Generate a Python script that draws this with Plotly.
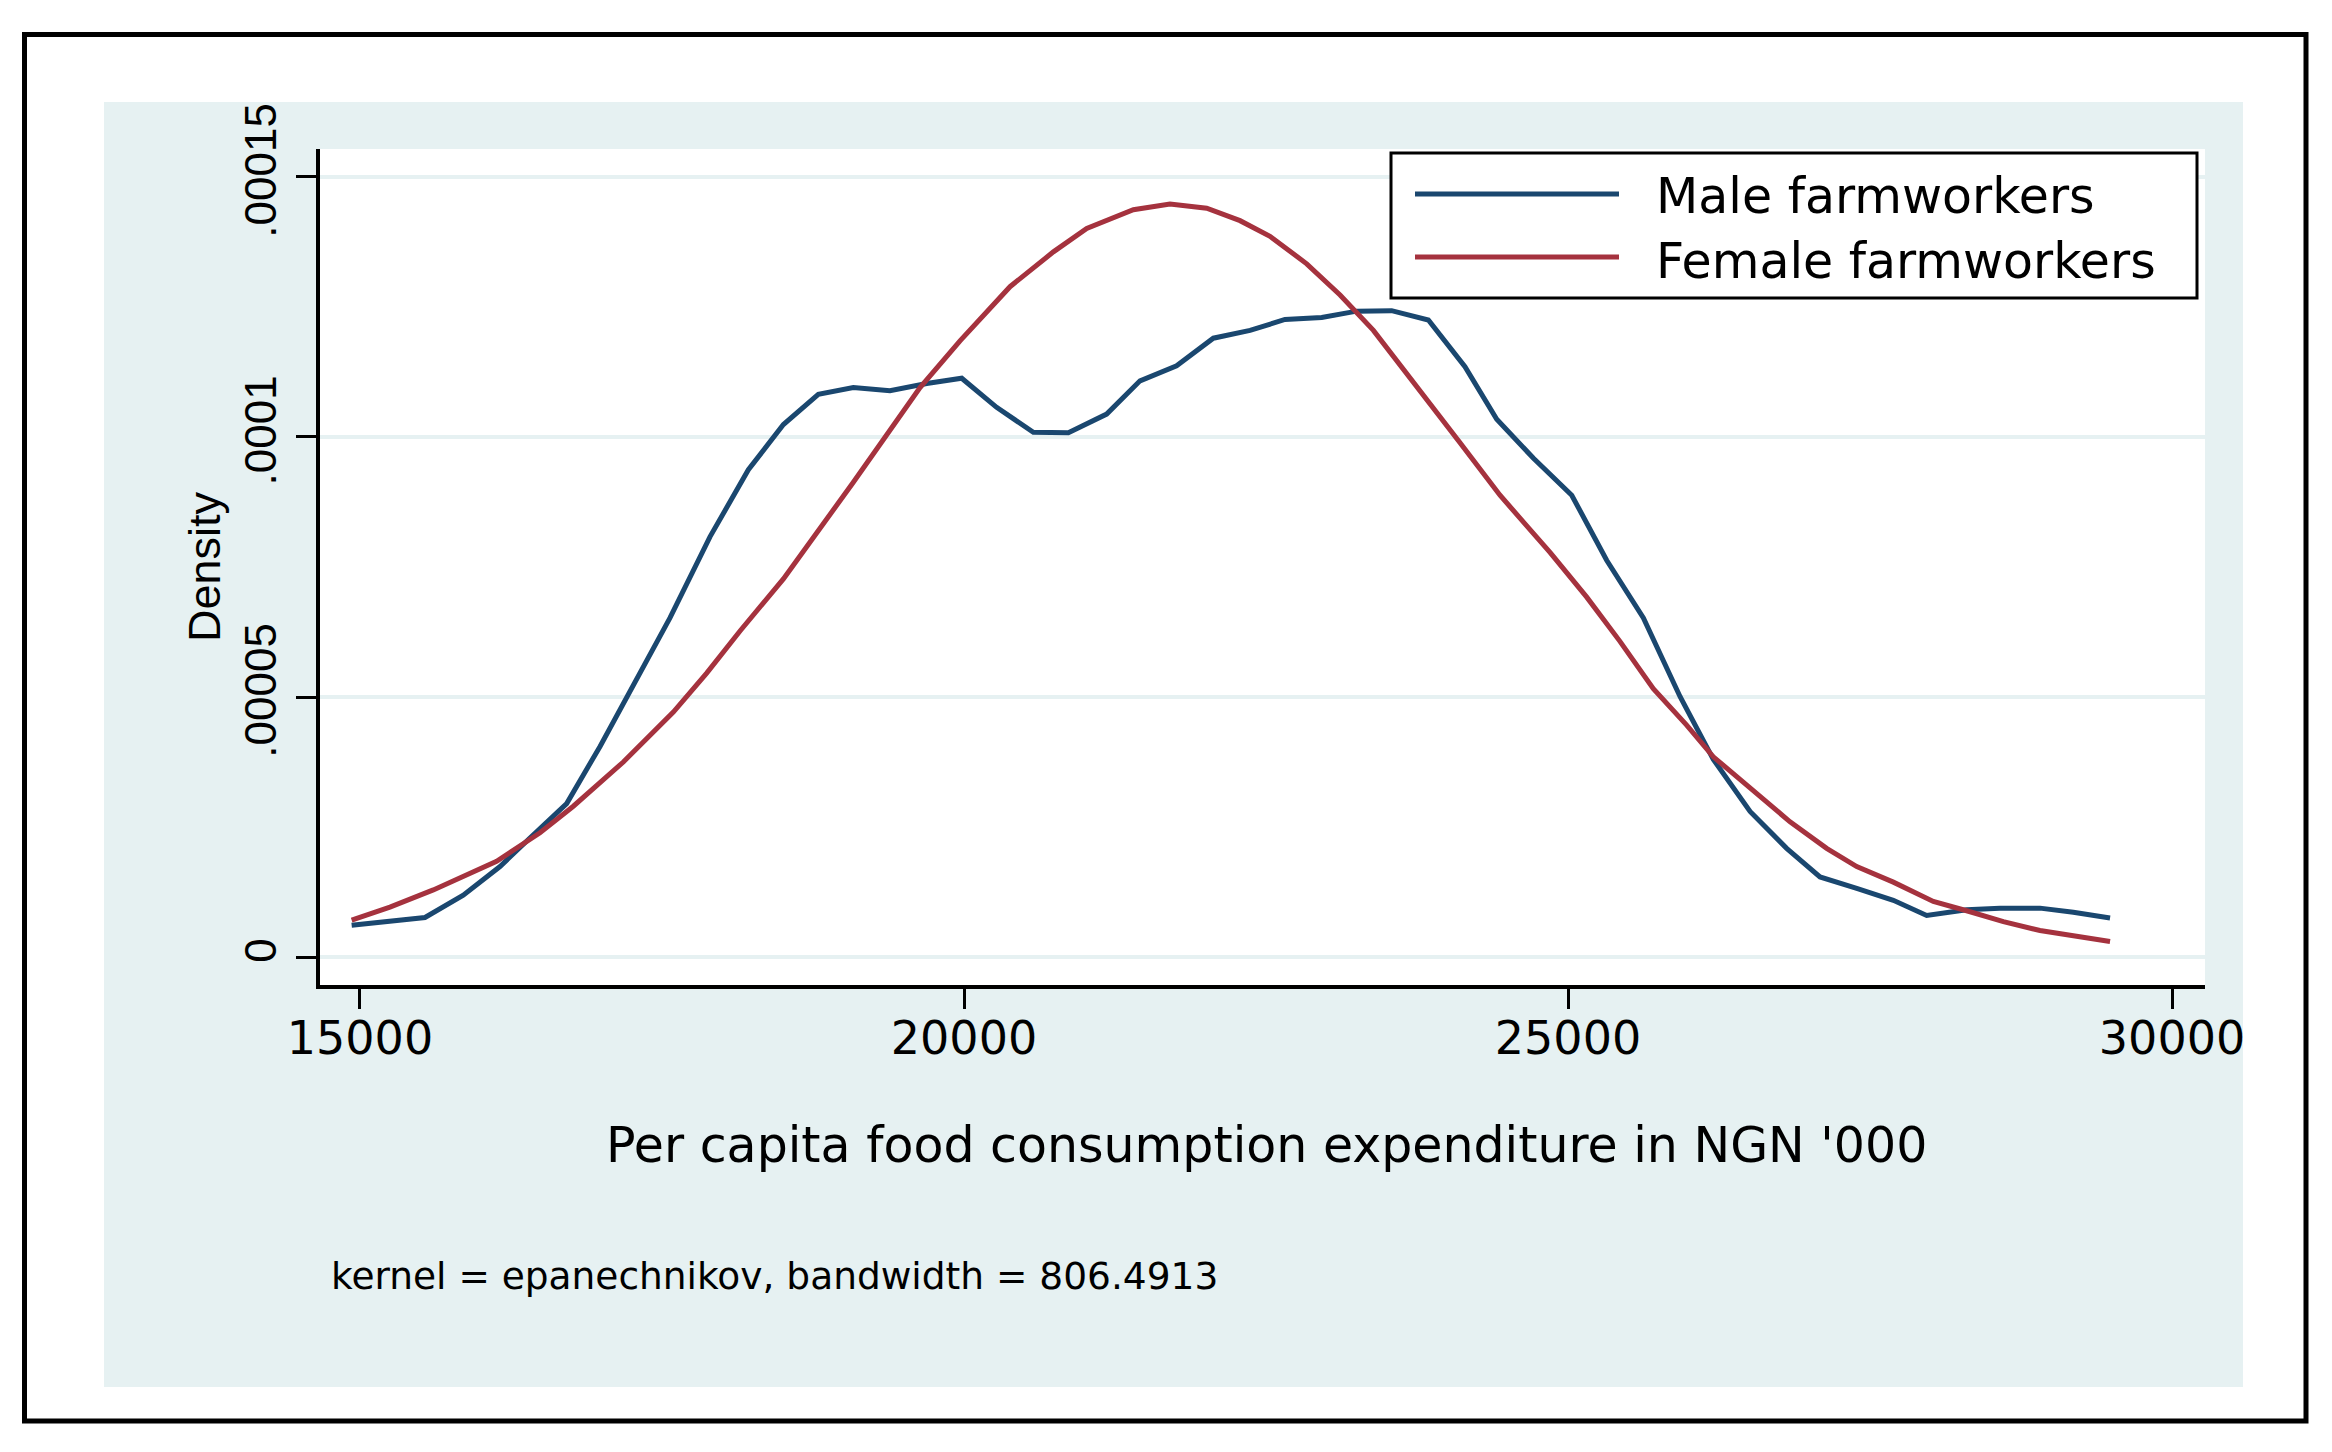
import plotly.graph_objects as go

# ---- data ----
male_x = [14931, 15538, 15855, 16159, 16407, 16711, 16987, 17263, 17566, 17897,
          18215, 18505, 18794, 19084, 19387, 19691, 19981, 20270, 20574, 20864,
          21181, 21457, 21760, 22064, 22368, 22657, 22961, 23251, 23540, 23844,
          24147, 24410, 24714, 25031, 25320, 25624, 25927, 26203, 26507, 26810,
          27086, 27390, 27693, 27969, 28300, 28576, 28907, 29183, 29487]
male_y = [0.61e-5, 0.76e-5, 1.19e-5, 1.74e-5, 2.29e-5, 2.95e-5, 4.05e-5, 5.21e-5, 6.52e-5, 8.08e-5,
          9.37e-5, 10.24e-5, 10.82e-5, 10.95e-5, 10.89e-5, 11.03e-5, 11.13e-5, 10.57e-5, 10.09e-5, 10.08e-5,
          10.44e-5, 11.08e-5, 11.37e-5, 11.90e-5, 12.05e-5, 12.26e-5, 12.30e-5, 12.42e-5, 12.43e-5, 12.25e-5,
          11.35e-5, 10.34e-5, 9.59e-5, 8.88e-5, 7.63e-5, 6.52e-5, 5.01e-5, 3.80e-5, 2.80e-5, 2.09e-5,
          1.54e-5, 1.32e-5, 1.09e-5, 0.80e-5, 0.91e-5, 0.94e-5, 0.94e-5, 0.86e-5, 0.75e-5]

female_x = [14931, 15248, 15607, 16131, 16490, 16766, 17180, 17594, 17870, 18146,
            18505, 19084, 19636, 19967, 20381, 20740, 21016, 21402, 21705, 22009,
            22285, 22533, 22837, 23113, 23389, 23555, 23816, 24106, 24437, 24851,
            25155, 25430, 25706, 25982, 26203, 26534, 26838, 27141, 27390, 27693,
            28024, 28300, 28604, 28907, 29183, 29487]
female_y = [0.71e-5, 0.96e-5, 1.29e-5, 1.84e-5, 2.39e-5, 2.90e-5, 3.75e-5, 4.71e-5, 5.46e-5, 6.27e-5,
            7.27e-5, 9.13e-5, 10.95e-5, 11.85e-5, 12.89e-5, 13.56e-5, 14.01e-5, 14.37e-5, 14.48e-5, 14.40e-5,
            14.16e-5, 13.86e-5, 13.33e-5, 12.73e-5, 12.05e-5, 11.55e-5, 10.79e-5, 9.89e-5, 8.88e-5, 7.78e-5,
            6.92e-5, 6.07e-5, 5.16e-5, 4.46e-5, 3.85e-5, 3.20e-5, 2.60e-5, 2.09e-5, 1.74e-5, 1.44e-5,
            1.07e-5, 0.89e-5, 0.68e-5, 0.51e-5, 0.40e-5, 0.30e-5]

series_names = ["Male farmworkers", "Female farmworkers"]
x_tickvals = [15000, 20000, 25000, 30000]
x_ticktext = ["15000", "20000", "25000", "30000"]
y_tickvals = [0, 0.00005, 0.0001, 0.00015]
y_ticktext = ["0", ".00005", ".0001", ".00015"]

x_title = "Per capita food consumption expenditure in NGN '000"
y_title = "Density"
note = "kernel = epanechnikov, bandwidth = 806.4913"

MALE_C = "#1a476f"
FEMALE_C = "#a5323e"
PANEL = "#e6f1f2"

# page has an 8px body margin; the figure is shrunk so it fits the window
OFF = 8
W, H = 2332 - 2 * OFF, 1452 - 2 * OFF
# plot-area edges in reference-image pixels
L, R, T, B = 320, 2205, 149, 985
pw, ph = R - L, B - T


def px(x):
    return (x - L) / pw


def py(y):
    return (B - y) / ph


fig = go.Figure()
fig.add_trace(go.Scatter(x=male_x, y=male_y, mode="lines", name=series_names[0],
                         line=dict(color=MALE_C, width=5)))
fig.add_trace(go.Scatter(x=female_x, y=female_y, mode="lines", name=series_names[1],
                         line=dict(color=FEMALE_C, width=5)))

shapes = [
    # light graph-region panel
    dict(type="rect", xref="paper", yref="paper", x0=px(104), x1=px(2243), y0=py(1387), y1=py(102),
         fillcolor=PANEL, line=dict(width=0), layer="below"),
    # white plot region
    dict(type="rect", xref="paper", yref="paper", x0=0, x1=1, y0=0, y1=1,
         fillcolor="white", line=dict(width=0), layer="below"),
    # white margin right of the panel (clips the last tick label like the original)
    dict(type="rect", xref="paper", yref="paper", x0=px(2243), x1=px(2300), y0=py(1080), y1=py(1000),
         fillcolor="white", line=dict(width=0), layer="above"),
    # outer frame
    dict(type="rect", xref="paper", yref="paper", x0=px(24.5), x1=px(2306), y0=py(1421), y1=py(34.5),
         fillcolor="rgba(0,0,0,0)", line=dict(color="black", width=5), layer="above"),
    # legend box
    dict(type="rect", xref="paper", yref="paper", x0=px(1391), x1=px(2197), y0=py(298), y1=py(153),
         fillcolor="white", line=dict(color="black", width=3), layer="above"),
    dict(type="line", xref="paper", yref="paper", x0=px(1415), x1=px(1619), y0=py(194), y1=py(194),
         line=dict(color=MALE_C, width=5), layer="above"),
    dict(type="line", xref="paper", yref="paper", x0=px(1415), x1=px(1619), y0=py(257), y1=py(257),
         line=dict(color=FEMALE_C, width=5), layer="above"),
]

HFONT = "DejaVu Sans"
VFONT = "Liberation Sans"

annotations = [
    dict(text=series_names[0], xref="paper", yref="paper", x=px(1654), y=py(197),
         xanchor="left", yanchor="middle", showarrow=False, font=dict(family=HFONT, size=49, color="black")),
    dict(text=series_names[1], xref="paper", yref="paper", x=px(1654), y=py(261),
         xanchor="left", yanchor="middle", showarrow=False, font=dict(family=HFONT, size=49, color="black")),
    dict(text=x_title, xref="paper", yref="paper", x=px(1266), y=py(1145),
         xanchor="center", yanchor="middle", showarrow=False, font=dict(family=HFONT, size=49, color="black")),
    dict(text=y_title, xref="paper", yref="paper", x=px(204), y=py(567), textangle=-90,
         xanchor="center", yanchor="middle", showarrow=False, font=dict(family=VFONT, size=45, color="black")),
    dict(text=note, xref="paper", yref="paper", x=px(329), y=py(1276),
         xanchor="left", yanchor="middle", showarrow=False, font=dict(family=HFONT, size=37.5, color="black")),
]

fig.update_layout(
    width=W, height=H,
    margin=dict(l=L - OFF, r=W - (R - OFF), t=T - OFF, b=H - (B - OFF), pad=0),
    paper_bgcolor="white", plot_bgcolor="white",
    showlegend=False,
    shapes=shapes, annotations=annotations,
    xaxis=dict(range=[14669, 30273], tickvals=x_tickvals, ticktext=x_ticktext,
               showgrid=False, zeroline=False, showline=True, linecolor="black", linewidth=4,
               ticks="outside", ticklen=20, tickwidth=3, tickcolor="black",
               tickfont=dict(family=HFONT, size=46, color="black"), ticklabelstandoff=-10),
    yaxis=dict(range=[-5.38e-6, 1.5538e-4], tickvals=y_tickvals, ticktext=y_ticktext,
               showgrid=True, gridcolor=PANEL, gridwidth=4, zeroline=False,
               showline=True, linecolor="black", linewidth=4,
               ticks="outside", ticklen=20, tickwidth=3, tickcolor="black", tickangle=-90,
               tickfont=dict(family=VFONT, size=44, color="black"), ticklabelstandoff=2),
)

fig.write_html("out.html")
